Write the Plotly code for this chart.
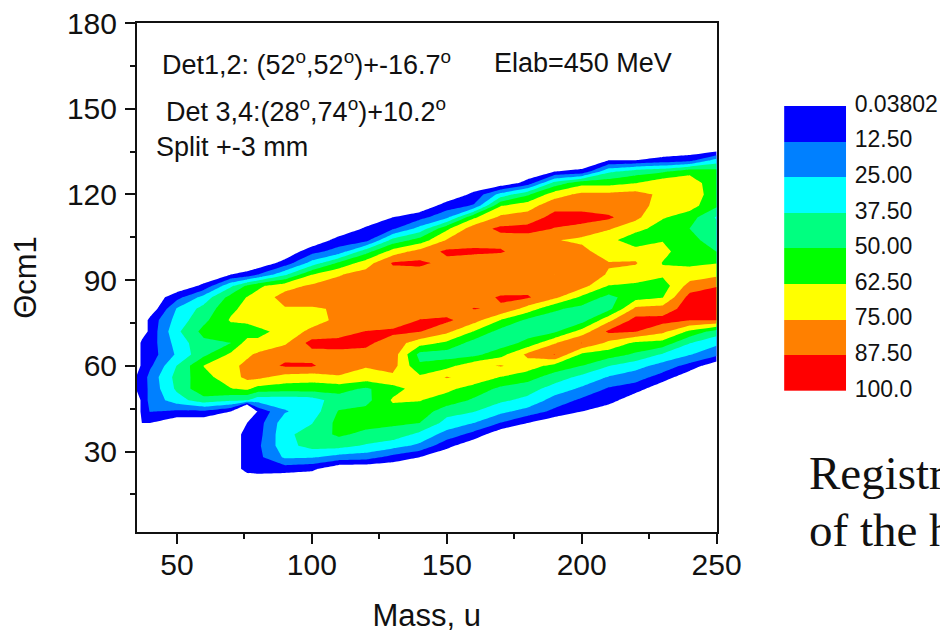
import numpy as np
import plotly.graph_objects as go

FONT = "Liberation Sans"
SERIF = "Liberation Serif"

theta = list(range(20, 144, 4))
mass = [35.2, 37, 40, 50, 60, 70, 76, 80, 90, 100, 110, 120, 130, 140, 150, 160,
        170, 180, 190, 200, 210, 220, 230, 240, 250]
outside = -10  # empty cells, just under the lowest contour

# first theta of each mass column, then intensity read at 4-degree steps
col_start = [52, 40, 40, 44, 44, 44, 24, 24, 24, 24, 28, 28, 28, 28, 32, 36,
             40, 40, 44, 44, 48, 52, 56, 60, 64]
col_values = [
    [3, 3],
    [0, 4, 4, 4, 4, 4, 4, 4],
    [0, 13, 16, 16, 17, 10, 6, 6, 4, 4],
    [10, 32, 40, 42, 38, 27, 30, 35, 30, 26, 8],
    [10, 45, 60, 58, 63, 47, 47, 54, 47, 42, 30, 3],
    [0, 40, 62, 70, 72, 65, 50, 56, 64, 60, 55, 35, 0],
    [6, 6, 6, 6, 0, -60, 38, 65, 78, 78, 73, 68, 55, 66, 66, 63, 52, 4],
    [8, 9, 10, 8, 7, 3, 30, 58, 78, 82, 77, 66, 58, 70, 72, 67, 60, 12],
    [6, 27, 33, 34, 32, 24, 30, 56, 70, 89, 84, 73, 68, 72, 74, 80, 70, 35, 5],
    [3, 26, 42, 44, 37, 31, 32, 56, 68, 89, 83, 92, 78, 70, 74, 80, 77, 62, 30, 8],
    [20, 42, 52, 54, 51, 44, 55, 74, 80, 84, 92, 82, 78, 76, 80, 80, 74, 52, 18, 5],
    [18, 36, 47, 54, 54, 46, 48, 70, 76, 84, 90, 88, 78, 80, 82, 83, 80, 69, 45, 8, 2],
    [8, 30, 45, 52, 58, 64, 58, 72, 80, 82, 82, 90, 80, 82, 82, 83, 82, 89, 68, 42, 11, 0],
    [0, 22, 34, 50, 58, 63, 68, 65, 52, 46, 68, 88, 88, 80, 82, 82, 82, 90, 80, 55, 30, 8],
    [4, 20, 33, 42, 58, 65, 76, 58, 44, 60, 78, 90, 80, 82, 80, 80, 84, 90, 76, 60, 22, 6],
    [8, 25, 38, 48, 58, 70, 72, 46, 45, 62, 80, 88, 82, 81, 81, 80, 90, 82, 82, 60, 14, 3],
    [12, 28, 40, 47, 62, 76, 58, 43, 45, 62, 86, 89, 80, 80, 78, 89, 83, 90, 78, 62, 30],
    [0, 20, 34, 43, 55, 69, 78, 54, 44, 47, 70, 89, 82, 81, 81, 80, 81, 92, 80, 70, 48, 5],
    [9, 20, 32, 44, 58, 88, 74, 48, 44, 52, 78, 82, 75, 82, 80, 76, 87, 92, 83, 70, 42, 0],
    [0, 10, 23, 34, 50, 60, 88, 68, 44, 46, 60, 80, 82, 76, 80, 72, 84, 92, 83, 78, 58, 3],
    [6, 11, 24, 38, 56, 72, 90, 72, 46, 46, 62, 74, 76, 66, 68, 76, 90, 78, 78, 58, 35, 0],
    [6, 18, 30, 48, 60, 88, 92, 78, 58, 60, 70, 76, 70, 52, 68, 78, 80, 80, 62, 44, 0],
    [7, 20, 36, 58, 78, 92, 80, 62, 56, 65, 62, 66, 62, 55, 64, 70, 72, 72, 48, 4],
    [8, 26, 38, 60, 88, 94, 92, 80, 68, 60, 55, 54, 50, 56, 68, 72, 68, 60, 8],
    [16, 28, 44, 88, 94, 92, 87, 72, 62, 50, 44, 42, 36, 52, 54, 56, 55, 30],
]

band_colors = ["#0000FF", "#0080FF", "#00FFFF", "#00FF80",
               "#00FF00", "#FFFF00", "#FF8000", "#FF0000"]
legend_values = [0.03802, 12.5, 25, 37.5, 50, 62.5, 75, 87.5, 100]
legend_labels = ["0.03802", "12.50", "25.00", "37.50", "50.00", "62.50", "75.00", "87.50", "100.0"]

z = np.full((len(theta), len(mass)), float(outside))
for j, (s, vals) in enumerate(zip(col_start, col_values)):
    i0 = theta.index(s)
    z[i0:i0 + len(vals), j] = vals

n = len(band_colors)
contour_scale = [[0, "#FFFFFF"]] + [[(i + 1) / n, c] for i, c in enumerate(band_colors)]

W, H = 811.5, 509.5
def px_x(px):
    return (px - 136.5) / W
def px_y(py):
    return (532.5 - py) / H

fig = go.Figure()
fig.add_trace(go.Contour(
    x=mass, y=theta, z=z,
    contours=dict(start=0.038, end=87.54, size=12.5, coloring="fill", showlines=False),
    line=dict(width=0, smoothing=0),
    colorscale=contour_scale, showscale=False, hoverinfo="skip",
))

legend_mid = [[(a + b) / 2] for a, b in zip(legend_values[:-1], legend_values[1:])]
legend_scale = []
for i, c in enumerate(band_colors):
    legend_scale += [[i / n, c], [(i + 1) / n, c]]
fig.add_trace(go.Heatmap(
    x=[0, 1], y=legend_values, z=legend_mid, zmin=0, zmax=100,
    colorscale=legend_scale, showscale=False, xaxis="x2", yaxis="y2", hoverinfo="skip",
))

axis_common = dict(showline=True, linecolor="#111", linewidth=2, mirror=True, showgrid=False, zeroline=False,
                   ticks="outside", ticklen=10, tickwidth=2, tickcolor="#111", ticklabeloverflow="allow",
                   tickfont=dict(family=FONT, size=30, color="#111"))
minor_tick = dict(ticks="outside", ticklen=5, tickwidth=2, tickcolor="#111", showgrid=False)
fig.update_layout(
    xaxis=dict(domain=[0, 580 / W], range=[35.2, 250], tick0=50, dtick=50, ticklabelstandoff=-5,
               minor=dict(tick0=25, dtick=25, **minor_tick),
               title=dict(text="Mass, u", font=dict(family=FONT, size=31, color="#111"), standoff=28),
               **axis_common),
    yaxis=dict(range=[1.85, 180], tick0=0, dtick=30, ticklabelstandoff=2,
               minor=dict(tick0=15, dtick=15, **minor_tick),
               title=dict(text="\u0398cm1", font=dict(family=FONT, size=31, color="#111"), standoff=24),
               **axis_common),
    xaxis2=dict(domain=[px_x(784), px_x(846)], range=[0, 1], visible=False, anchor="y2"),
    yaxis2=dict(domain=[px_y(391), px_y(106)], range=[100, 0.03802], anchor="x2", side="right",
                showline=False, showgrid=False, zeroline=False,
                ticks="outside", ticklen=3, tickcolor="rgba(0,0,0,0)", ticklabeloverflow="allow",
                tickmode="array", tickvals=legend_values, ticktext=legend_labels,
                ticklabelshift=2,
                tickfont=dict(family=FONT, size=23, color="#111")),
)

notes = [
    ("Det1,2: (52<sup>o</sup>,52<sup>o</sup>)+-16.7<sup>o</sup>", 160, 63, FONT, 27),
    ("Elab=450 MeV", 492, 63, FONT, 27),
    ("Det 3,4:(28<sup>o</sup>,74<sup>o</sup>)+10.2<sup>o</sup>", 164, 110, FONT, 27),
    ("Split +-3 mm", 154, 147, FONT, 27),
    ("Registr", 807, 473, SERIF, 47),
    ("of the h", 807, 530, SERIF, 47),
]
for text, px, py, fam, size in notes:
    fig.add_annotation(text=text, xref="paper", yref="paper", x=px_x(px), y=px_y(py),
                       xanchor="left", yanchor="middle", showarrow=False, align="left",
                       font=dict(family=fam, size=size, color="#111"))

fig.update_layout(width=940, height=625, margin=dict(l=128.5, r=0, t=15, b=100.5, autoexpand=False),
                  paper_bgcolor="white", plot_bgcolor="white", showlegend=False)
fig.write_html("out.html")
